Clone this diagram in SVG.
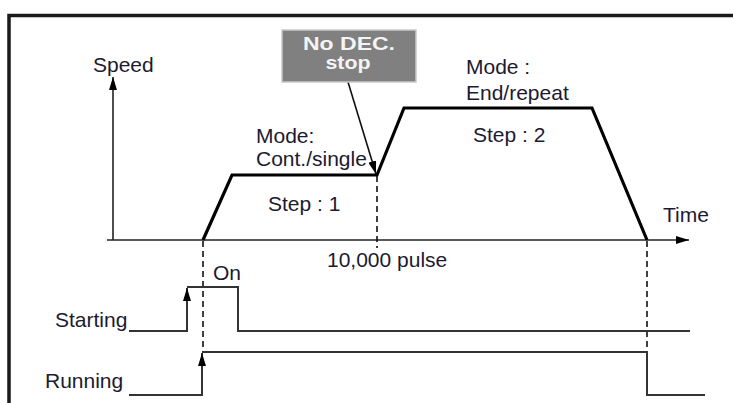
<svg xmlns="http://www.w3.org/2000/svg" width="733" height="403" viewBox="0 0 733 403">
<style>
.t{font-family:"Liberation Sans",Arial,sans-serif;font-size:21px;fill:#1c1a30}
.ax{stroke:#222;stroke-width:1.6;fill:none}
.prof{stroke:#000;stroke-width:3.2;fill:none;stroke-linejoin:miter}
.sig{stroke:#333;stroke-width:2;fill:none}
.dash{stroke:#111;stroke-width:1.6;stroke-dasharray:6 4;fill:none}
.box{font-family:"Liberation Sans",Arial,sans-serif;font-weight:bold;font-size:19px;fill:#f4f4f4;text-anchor:middle}
</style>
<defs>
<marker id="ah" markerUnits="userSpaceOnUse" markerWidth="13" markerHeight="8" refX="13" refY="4" orient="auto">
<path d="M0,0 L13,4 L0,8 z" fill="#000"/>
</marker>
<marker id="ahs" markerUnits="userSpaceOnUse" markerWidth="13" markerHeight="8" refX="13" refY="4" orient="auto">
<path d="M0,0 L13,4 L0,8 z" fill="#000"/>
</marker>
</defs>
<rect width="733" height="403" fill="#fff"/>
<path d="M9,403 V15.5 H733" stroke="#1a1a1a" stroke-width="3.5" fill="none"/>

<g id="connectors">
<path class="ax" d="M113,240 V77" marker-end="url(#ah)"/>
<path class="ax" d="M107,240 H689" marker-end="url(#ah)"/>
<path class="dash" d="M203,241 V352"/>
<path class="dash" d="M377,176 V248"/>
<path class="dash" d="M647,241 V352"/>
<path class="prof" d="M203,240 L232,175 L377,175 L404,108 L592,108 L647,240"/>
<path class="sig" d="M129,331 H187 V288" marker-end="url(#ahs)"/>
<path class="sig" d="M187,287 H238 V331 H690"/>
<path class="sig" d="M129,395 H202 V353" marker-end="url(#ahs)"/>
<path class="sig" d="M202,352 H647 V395 H705"/>
<path d="M348,82 L376,174" stroke="#111" stroke-width="1.6" fill="none" marker-end="url(#ah)"/>
</g>

<g id="nodec">
<rect x="282" y="30" width="134" height="52" fill="#808080" stroke="#c8c8c8" stroke-width="1.5"/>
<text class="box" x="349" y="50" textLength="92" lengthAdjust="spacingAndGlyphs">No DEC.</text>
<text class="box" x="348" y="69" textLength="45" lengthAdjust="spacingAndGlyphs">stop</text>
</g>

<g id="speed"><text class="t" x="93" y="72">Speed</text></g>
<g id="time"><text class="t" x="663" y="222">Time</text></g>
<g id="mode1">
<text class="t" x="256" y="143">Mode:</text>
<text class="t" x="256" y="166">Cont./single</text>
</g>
<g id="step1"><text class="t" x="268" y="211">Step : 1</text></g>
<g id="mode2">
<text class="t" x="466" y="74">Mode :</text>
<text class="t" x="466" y="100">End/repeat</text>
</g>
<g id="step2"><text class="t" x="473" y="142">Step : 2</text></g>
<g id="pulse"><text class="t" x="327" y="267">10,000 pulse</text></g>
<g id="on"><text class="t" x="213" y="280">On</text></g>
<g id="starting"><text class="t" x="55" y="327">Starting</text></g>
<g id="running"><text class="t" x="45" y="388">Running</text></g>
</svg>
